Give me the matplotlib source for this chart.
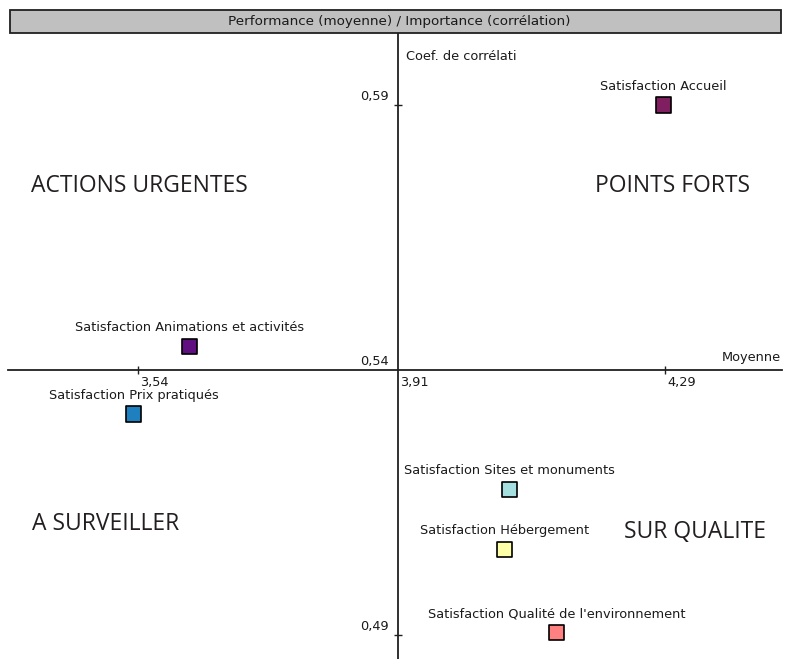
import matplotlib
matplotlib.use("Agg")
import matplotlib.pyplot as plt
from matplotlib.patches import Rectangle

# data
labels = ["Satisfaction Accueil", "Satisfaction Animations et activités",
          "Satisfaction Prix pratiqués", "Satisfaction Sites et monuments",
          "Satisfaction Hébergement", "Satisfaction Qualité de l'environnement"]
moyenne = [4.288, 3.613, 3.534, 4.069, 4.061, 4.136]
correlation = [0.590, 0.5445, 0.5317, 0.5175, 0.5062, 0.4904]
colors = ["#7f1f5f", "#5f0f7f", "#1f80c0", "#a6dfdf", "#ffffa8", "#ff8080"]

x_ticks = [3.54, 3.91, 4.29]
y_ticks = [0.59, 0.54, 0.49]
x_tick_labels = ["3,54", "3,91", "4,29"]
y_tick_labels = ["0,59", "0,54", "0,49"]
x_cross, y_cross = 3.91, 0.54

W, H = 795, 659
fig = plt.figure(figsize=(W / 100, H / 100), dpi=100)
ax = fig.add_axes([0, 0, 1, 1])

# pixel scale of the plot
x_px0, x_ppu = 398, 703.0     # pixel of x_cross, pixels per unit
y_px0, y_ppu = 370, 5300.0
px2x = lambda p: x_cross + (p - x_px0) / x_ppu
py2y = lambda p: y_cross + (y_px0 - p) / y_ppu

ax.set_xlim(px2x(0), px2x(W))
ax.set_ylim(py2y(H), py2y(0))

# axes through the crossing point
for s in ["top", "right"]:
    ax.spines[s].set_visible(False)
ax.spines["left"].set_position(("data", x_cross))
ax.spines["bottom"].set_position(("data", y_cross))
ax.spines["left"].set_bounds(py2y(H), py2y(33))
ax.spines["bottom"].set_bounds(px2x(8), px2x(782))
for s in ["left", "bottom"]:
    ax.spines[s].set_linewidth(1.3)
    ax.spines[s].set_color("#202020")
    ax.spines[s].set_zorder(4)
ax.set_xticks([t for t in x_ticks if t != x_cross])
ax.set_yticks([t for t in y_ticks if t != y_cross])
ax.set_xticklabels([])
ax.set_yticklabels([])
ax.tick_params(direction="inout", length=6, width=1, color="#202020")

small = dict(family="DejaVu Sans", fontsize=9.3, color="#1a1a1a")
for t, lab in zip(x_ticks, x_tick_labels):
    ax.text(t + 2 / x_ppu, y_cross - 6 / y_ppu, lab, ha="left", va="top", **small)
for t, lab in zip(y_ticks, y_tick_labels):
    ax.text(x_cross - 9 / x_ppu, t + 2 / y_ppu, lab, ha="right", va="bottom", **small)

ax.text(x_cross + 8 / x_ppu, py2y(57), "Coef. de corrélati", ha="left", va="center", **small)
ax.text(px2x(781), y_cross + 6 / y_ppu, "Moyenne", ha="right", va="bottom", **small)

# points
ax.scatter(moyenne, correlation, s=120, marker="s", c=colors, edgecolors="black", linewidths=1.2, zorder=3)
for x, y, lab in zip(moyenne, correlation, labels):
    ax.text(x, y + 12 / y_ppu, lab, ha="center", va="bottom", **small)

# quadrant labels
big = dict(family="Open Sans", fontsize=16.5, color="#231f20", va="center")
ax.text(px2x(31), py2y(186), "ACTIONS URGENTES", ha="left", **big)
ax.text(px2x(750), py2y(186), "POINTS FORTS", ha="right", **big)
ax.text(px2x(32), py2y(524), "A SURVEILLER", ha="left", **big)
ax.text(px2x(766), py2y(532), "SUR QUALITE", ha="right", **big)

# title bar
fig.patches.append(Rectangle((10 / W, 1 - 33 / H), 771 / W, 23 / H, transform=fig.transFigure,
                             facecolor="#c0c0c0", edgecolor="#202020", linewidth=1.3))
fig.text(399 / W, 1 - 21 / H, "Performance (moyenne) / Importance (corrélation)",
         ha="center", va="center", family="DejaVu Sans", fontsize=9.7, color="#1a1a1a")

fig.savefig("out.png", dpi=100)
